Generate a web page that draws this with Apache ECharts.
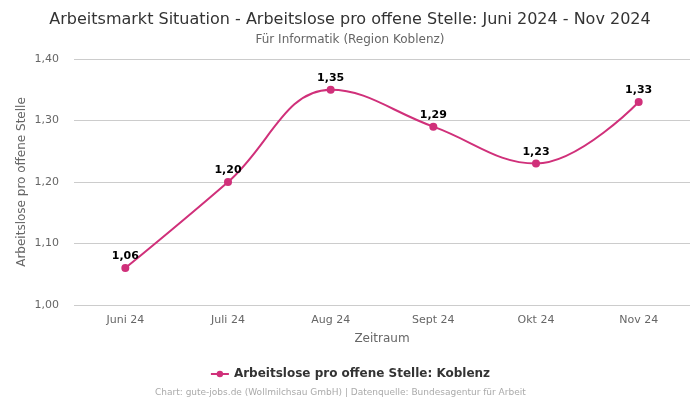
<!DOCTYPE html>
<html><head><meta charset="utf-8">
<script src="https://cdn.jsdelivr.net/npm/echarts@6/dist/echarts.min.js"></script>
<style>html,body{margin:0;padding:0;background:#fff}#c{width:700px;height:400px}</style>
</head><body><div id="c"></div>
<script>
const categories = ["Juni 24", "Juli 24", "Aug 24", "Sept 24", "Okt 24", "Nov 24"];
const values = [1.06, 1.20, 1.35, 1.29, 1.23, 1.33];
const seriesName = "Arbeitslose pro offene Stelle: Koblenz";
const fmt = v => v.toFixed(2).replace('.', ',');
const chart = echarts.init(document.getElementById('c'), null, {renderer: 'canvas'});
chart.setOption({
  animation: false,
  textStyle: {fontFamily: 'DejaVu Sans'},
  title: [
    {text: 'Arbeitsmarkt Situation - Arbeitslose pro offene Stelle: Juni 2024 - Nov 2024', left: 'center', top: 7,
     textStyle: {fontSize: 16, fontWeight: 'normal', color: '#333', fontFamily: 'DejaVu Sans'}},
    {text: 'Für Informatik (Region Koblenz)', left: 'center', top: 29,
     textStyle: {fontSize: 12, fontWeight: 'normal', color: '#666', fontFamily: 'DejaVu Sans'}},
    {text: 'Chart: gute-jobs.de (Wollmilchsau GmbH) | Datenquelle: Bundesagentur für Arbeit', left: 150, top: 383,
     textStyle: {fontSize: 9, fontWeight: 'normal', color: '#aaa', fontFamily: 'DejaVu Sans'}}
  ],
  legend: {data: [seriesName], left: 'center', top: 363, itemWidth: 18, itemHeight: 8,
    textStyle: {fontSize: 12, fontWeight: 'bold', color: '#333'}},
  grid: {left: 74, right: 10, top: 59, bottom: 95},
  xAxis: {type: 'category', data: categories, boundaryGap: true,
    name: 'Zeitraum', nameLocation: 'middle', nameGap: 28, nameTextStyle: {fontSize: 12, color: '#666'},
    axisLine: {show: false}, axisTick: {show: false},
    axisLabel: {fontSize: 11, color: '#666', margin: 10}},
  yAxis: {type: 'value', min: 1.0, max: 1.4, interval: 0.1,
    name: 'Arbeitslose pro offene Stelle', nameLocation: 'middle', nameGap: 46, nameMoveOverlap: false,
    nameTextStyle: {fontSize: 12, color: '#666'},
    axisLabel: {fontSize: 11, color: '#666', margin: 15, formatter: v => fmt(v)},
    splitLine: {lineStyle: {color: '#ccc'}}},
  series: [{
    name: seriesName, type: 'line', data: values, smooth: 0.4,
    symbol: 'circle', symbolSize: 8,
    itemStyle: {color: '#d0307a'}, lineStyle: {color: '#d0307a', width: 2},
    label: {show: true, position: 'top', distance: 2, fontSize: 11, fontWeight: 'bold', color: '#000', formatter: p => fmt(p.value)}
  }]
});
</script></body></html>
